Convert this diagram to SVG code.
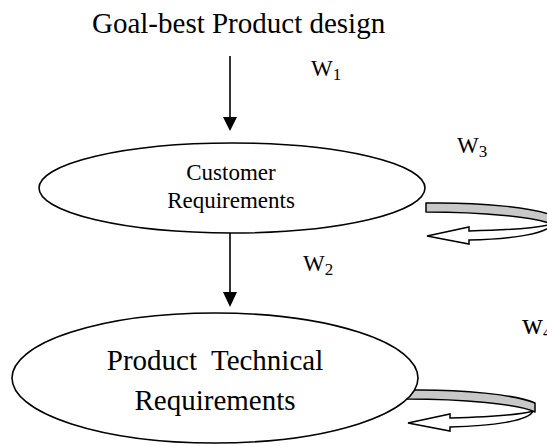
<svg xmlns="http://www.w3.org/2000/svg" xmlns:xlink="http://www.w3.org/1999/xlink" width="547" height="447" viewBox="0 0 547 447">
<style>
text{font-family:"Liberation Serif","Times New Roman",serif;fill:#000}
.lbl{font-size:23px}
.sub{font-size:17px}
.node{fill:#fff;stroke:#000;stroke-width:1.6}
.edge{stroke:#000;stroke-width:1.6;fill:none}
.head{fill:#000}
.band{fill:#c8c8c8;stroke:#000;stroke-width:1.5;stroke-linejoin:round}
.ret{fill:#fff;stroke:#000;stroke-width:1.5;stroke-linejoin:miter}
</style>
<defs>
<g id="loop">
<path class="ret" d="M1,33 L43,24 L43,28 C85,27 112,25 126,21 C122,31 85,36 43,37 L43,41 Z"/>
<path class="band" d="M0,0 C55,-1 110,5 128,13 L128,22 C112,14 55,9 0,9 Z"/>
</g>
</defs>
<rect width="547" height="447" fill="#fff"/>
<text x="92" y="33" font-size="29">Goal-best Product design</text>
<g id="connectors">
<line class="edge" x1="230" y1="56" x2="230" y2="118"/>
<polygon class="head" points="223,117 237,117 230,131"/>
<line class="edge" x1="230" y1="233" x2="230" y2="293"/>
<polygon class="head" points="223,292 237,292 230,307"/>
<use xlink:href="#loop" transform="translate(426,203)"/>
<use xlink:href="#loop" transform="translate(407,390)"/>
</g>
<text class="lbl" x="311" y="76">W<tspan class="sub" dy="4">1</tspan></text>
<text class="lbl" x="457" y="153">W<tspan class="sub" dy="4">3</tspan></text>
<text class="lbl" x="303" y="271">W<tspan class="sub" dy="4">2</tspan></text>
<text x="522" y="334" font-size="29">w<tspan class="sub" dy="4">4</tspan></text>
<g id="customer">
<ellipse class="node" cx="232" cy="188" rx="193" ry="45"/>
<text x="231" y="180" font-size="23" text-anchor="middle">Customer</text>
<text x="231" y="208" font-size="23" text-anchor="middle">Requirements</text>
</g>
<g id="technical">
<ellipse class="node" cx="215" cy="378" rx="203" ry="65"/>
<text x="215" y="370" font-size="29" text-anchor="middle" xml:space="preserve">Product  Technical</text>
<text x="215" y="410" font-size="29" text-anchor="middle">Requirements</text>
</g>
</svg>
